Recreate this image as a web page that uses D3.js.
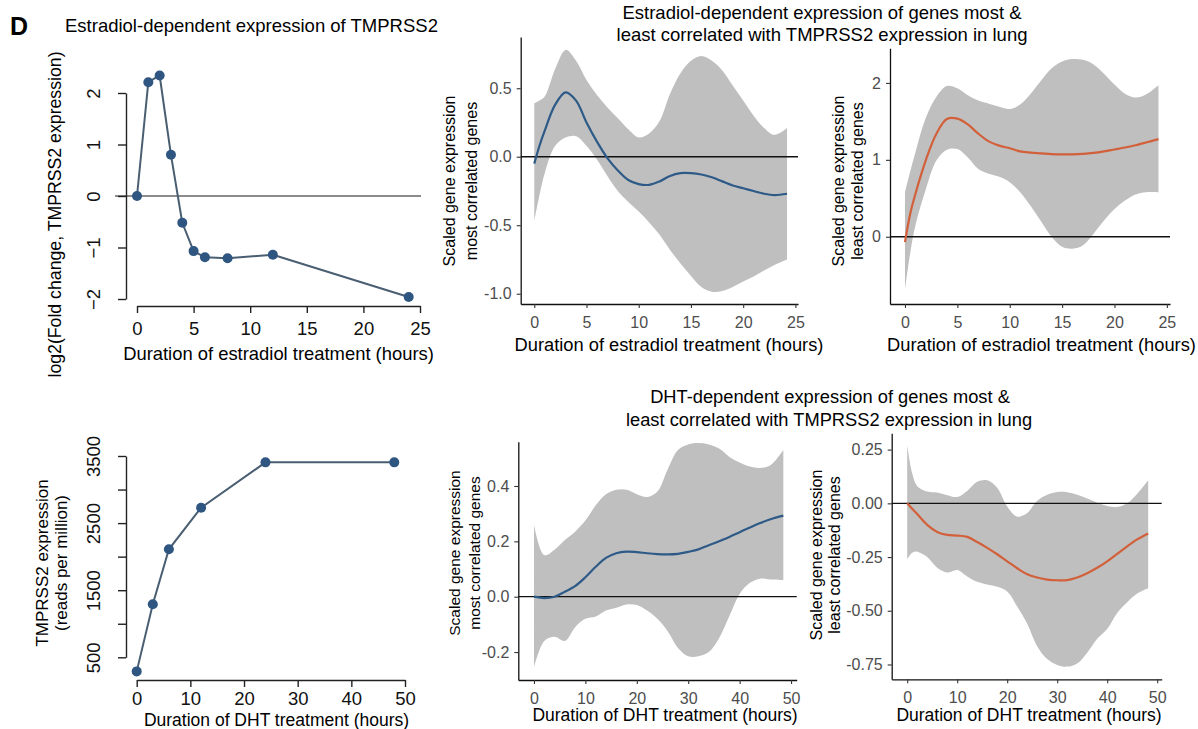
<!DOCTYPE html>
<html>
<head>
<meta charset="utf-8">
<script src="https://cdn.jsdelivr.net/npm/d3@7"></script>
<style>
  body { margin: 0; background: #fff; }
  svg { font-family: "Liberation Sans", Arial, sans-serif; }
</style>
</head>
<body>
<svg id="fig" width="1198" height="729"></svg>
<script>
// ---- data ----
var e2Hours = [0, 1, 2, 3, 4, 5, 6, 8, 12, 24];
var e2LogFC = [0, 2.21, 2.34, 0.8, -0.52, -1.07, -1.19, -1.21, -1.14, -1.96];

var dhtHours = [0, 3, 6, 12, 24, 48];
var dhtRPM = [290, 1290, 2110, 2730, 3405, 3405];

// estradiol, most correlated genes (loess fit + ribbon)
var e2Grid = [0, 0.5, 1, 2, 3, 4, 5, 6, 7, 8, 9, 10, 11, 12, 13, 14, 15, 16, 17, 18, 19, 20, 21, 22, 23, 24.2];
var e2MostFit = [-0.05, 0.08, 0.19, 0.38, 0.47, 0.41, 0.25, 0.11, -0.01, -0.1, -0.17, -0.2, -0.205, -0.18, -0.14, -0.12, -0.12, -0.13, -0.15, -0.18, -0.21, -0.23, -0.25, -0.27, -0.28, -0.27];
var e2MostLo = [-0.47, -0.28, -0.12, 0.08, 0.14, 0.15, 0.08, -0.02, -0.14, -0.25, -0.33, -0.4, -0.48, -0.57, -0.68, -0.78, -0.87, -0.95, -0.985, -0.98, -0.95, -0.91, -0.875, -0.83, -0.79, -0.75];
var e2MostHi = [0.39, 0.41, 0.44, 0.64, 0.78, 0.7, 0.56, 0.45, 0.36, 0.28, 0.2, 0.14, 0.17, 0.26, 0.46, 0.61, 0.7, 0.735, 0.7, 0.63, 0.52, 0.41, 0.3, 0.21, 0.16, 0.21];

// estradiol, least correlated genes
var e2LeastFit = [-0.07, 0.3, 0.56, 1.0, 1.34, 1.53, 1.535, 1.46, 1.34, 1.24, 1.185, 1.15, 1.11, 1.095, 1.085, 1.075, 1.072, 1.072, 1.078, 1.09, 1.11, 1.135, 1.16, 1.19, 1.225, 1.27];
var e2LeastLo = [-0.69, -0.21, 0.15, 0.62, 0.99, 1.13, 1.14, 1.03, 0.88, 0.82, 0.78, 0.71, 0.58, 0.4, 0.2, 0.0, -0.13, -0.155, -0.11, 0.04, 0.21, 0.36, 0.47, 0.55, 0.58, 0.58];
var e2LeastHi = [0.58, 0.85, 1.1, 1.55, 1.82, 1.96, 1.93, 1.84, 1.77, 1.73, 1.69, 1.66, 1.72, 1.86, 2.03, 2.19, 2.28, 2.31, 2.3, 2.24, 2.12, 1.98, 1.86, 1.81, 1.85, 1.97];

// DHT, most correlated genes
var dhtMostGrid = [0, 2, 4, 6, 8, 10, 12, 14, 16, 18, 20, 22, 24, 26, 28, 30, 32, 34, 36, 38, 40, 42, 44, 46, 48.5];
var dhtMostFit = [0.0, -0.005, 0.0, 0.018, 0.038, 0.07, 0.108, 0.14, 0.157, 0.163, 0.161, 0.157, 0.154, 0.153, 0.155, 0.162, 0.171, 0.186, 0.2, 0.216, 0.233, 0.25, 0.266, 0.28, 0.293];
var dhtMostLo = [-0.255, -0.16, -0.145, -0.16, -0.11, -0.08, -0.072, -0.05, -0.04, -0.028, -0.03, -0.05, -0.08, -0.125, -0.185, -0.215, -0.215, -0.2, -0.15, -0.07, 0.01, 0.05, 0.065, 0.062, 0.06];
var dhtMostHi = [0.26, 0.15, 0.17, 0.205, 0.235, 0.275, 0.33, 0.37, 0.386, 0.386, 0.37, 0.36, 0.38, 0.46, 0.53, 0.55, 0.555, 0.55, 0.535, 0.505, 0.485, 0.47, 0.465, 0.475, 0.53];

// DHT, least correlated genes
var dhtLeastGrid = [0, 1, 2, 4, 6, 8, 10, 12, 14, 16, 18, 20, 22, 24, 26, 28, 30, 32, 34, 36, 38, 40, 42, 44, 46, 48.2];
var dhtLeastFit = [0, -0.025, -0.05, -0.1, -0.133, -0.147, -0.15, -0.156, -0.18, -0.207, -0.237, -0.27, -0.302, -0.33, -0.345, -0.355, -0.358, -0.357, -0.345, -0.325, -0.3, -0.27, -0.235, -0.2, -0.168, -0.14];
var dhtLeastLo = [-0.26, -0.23, -0.225, -0.25, -0.3, -0.322, -0.31, -0.34, -0.365, -0.378, -0.388, -0.41, -0.48, -0.56, -0.665, -0.725, -0.752, -0.76, -0.745, -0.695, -0.63, -0.585, -0.51, -0.46, -0.42, -0.395];
var dhtLeastHi = [0.27, 0.14, 0.08, 0.055, 0.05, 0.038, 0.03, 0.058, 0.1, 0.107, 0.072, -0.015, -0.062, -0.045, 0.012, 0.04, 0.053, 0.052, 0.04, 0.022, 0.003, -0.012, -0.017, 0.0, 0.045, 0.108];

var blue = "#2d5a87";
var orange = "#d2603a";

var svg = d3.select("#fig");

function addText(txt, x, y, size, opts) {
  opts = opts || {};
  var t = svg.append("text")
    .attr("x", x)
    .attr("y", y)
    .attr("font-size", size)
    .attr("fill", opts.fill || "#000")
    .attr("text-anchor", opts.anchor || "start")
    .text(txt);
  if (opts.bold) t.attr("font-weight", "bold");
  return t;
}

// rotated text, x is the baseline
function addVText(txt, x, cy, size) {
  svg.append("text")
    .attr("transform", "translate(" + x + "," + cy + ") rotate(-90)")
    .attr("font-size", size)
    .attr("text-anchor", "middle")
    .text(txt);
}

// base R style panel: line + points, detached axes
function basePanel(p) {
  var x = d3.scaleLinear().domain(p.xDom).range(p.xRange);
  var y = d3.scaleLinear().domain(p.yDom).range(p.yRange);
  var g = svg.append("g");

  if (p.zeroLine) {
    g.append("line")
      .attr("x1", p.zeroLine[0]).attr("x2", p.zeroLine[1])
      .attr("y1", y(0)).attr("y2", y(0))
      .attr("stroke", "#666").attr("stroke-width", 1.3);
  }

  var pts = p.xs.map(function (d, i) { return [d, p.ys[i]]; });
  g.append("path")
    .datum(pts)
    .attr("d", d3.line().x(function (d) { return x(d[0]); }).y(function (d) { return y(d[1]); }))
    .attr("fill", "none")
    .attr("stroke", "#4a5e72")
    .attr("stroke-width", 2);

  g.selectAll("circle")
    .data(pts)
    .enter()
    .append("circle")
    .attr("cx", function (d) { return x(d[0]); })
    .attr("cy", function (d) { return y(d[1]); })
    .attr("r", 5)
    .attr("fill", "#2e5680");

  var xa = g.append("g")
    .attr("transform", "translate(0," + p.xAxisY + ")")
    .call(d3.axisBottom(x).tickValues(p.xTicks).tickSize(7).tickSizeOuter(0).tickFormat(d3.format("d")));
  xa.selectAll("text").attr("y", p.xLabOff).attr("dy", 0);

  var ya = g.append("g")
    .attr("transform", "translate(" + p.yAxisX + ",0)")
    .call(d3.axisLeft(y).tickValues(p.yTicks).tickSize(8).tickSizeOuter(0).tickFormat(p.yFmt));
  ya.selectAll("text")
    .attr("x", 0).attr("dy", 0)
    .attr("text-anchor", "middle")
    .attr("transform", "translate(-26,0) rotate(-90)");

  [xa, ya].forEach(function (a) {
    a.attr("font-family", null).attr("font-size", 18.5);
    a.select(".domain").attr("stroke", "#222").attr("stroke-width", 1.4);
    a.selectAll(".tick line").attr("stroke", "#222").attr("stroke-width", 1.4);
    a.selectAll("text").attr("fill", "#111");
  });
}

// ggplot style panel: smoothed fit with ribbon
function ggPanel(p) {
  var x = d3.scaleLinear().domain(p.xDom).range(p.xRange);
  var y = d3.scaleLinear().domain(p.yDom).range(p.yRange);
  var g = svg.append("g");
  var rows = p.grid.map(function (t, i) {
    return { t: t, lo: p.lo[i], hi: p.hi[i], fit: p.fit[i] };
  });

  g.append("path")
    .datum(rows)
    .attr("d", d3.area()
      .x(function (d) { return x(d.t); })
      .y0(function (d) { return y(d.lo); })
      .y1(function (d) { return y(d.hi); })
      .curve(d3.curveCatmullRom))
    .attr("fill", "#bfbfbf");

  g.append("line")
    .attr("x1", p.xRange[0]).attr("x2", p.xRange[1])
    .attr("y1", y(0)).attr("y2", y(0))
    .attr("stroke", "#111").attr("stroke-width", 1.3);

  g.append("path")
    .datum(rows)
    .attr("d", d3.line()
      .x(function (d) { return x(d.t); })
      .y(function (d) { return y(d.fit); })
      .curve(d3.curveCatmullRom))
    .attr("fill", "none")
    .attr("stroke", p.color)
    .attr("stroke-width", 2.2);

  var xa = g.append("g")
    .attr("transform", "translate(0," + p.yRange[0] + ")")
    .call(d3.axisBottom(x).tickValues(p.xTicks).tickSize(4).tickSizeOuter(0).tickFormat(function (d) { return String(d); }));
  xa.selectAll("text").attr("y", 23.5).attr("dy", 0);

  var ya = g.append("g")
    .attr("transform", "translate(" + p.xRange[0] + ",0)")
    .call(d3.axisLeft(y).tickValues(p.yTicks).tickSize(4).tickSizeOuter(0).tickPadding(5).tickFormat(p.yFmt));

  [xa, ya].forEach(function (a) {
    a.attr("font-family", null).attr("font-size", 16);
    a.select(".domain").attr("stroke", "#111").attr("stroke-width", 1.3);
    a.selectAll(".tick line").attr("stroke", "#333").attr("stroke-width", 1.1);
    a.selectAll("text").attr("fill", "#4d4d4d");
  });
}

// ---- top left: estradiol TMPRSS2 ----
addText("D", 10, 35, 25, { bold: true });
addText("Estradiol-dependent expression of TMPRSS2", 65, 31.5, 18.5);
basePanel({
  xs: e2Hours, ys: e2LogFC,
  xDom: [0, 25], xRange: [137, 420],
  yDom: [-2, 2], yRange: [299, 93],
  xAxisY: 306, yAxisX: 126, xLabOff: 29,
  xTicks: [0, 5, 10, 15, 20, 25],
  yTicks: [-2, -1, 0, 1, 2],
  yFmt: d3.format("d"),
  zeroLine: [115, 421]
});
addText("Duration of estradiol treatment (hours)", 278.5, 360, 18.4, { anchor: "middle" });
addVText("log2(Fold change, TMPRSS2 expression)", 61, 214.5, 17.7);

// ---- bottom left: DHT TMPRSS2 ----
basePanel({
  xs: dhtHours, ys: dhtRPM,
  xDom: [0, 50], xRange: [136.7, 405],
  yDom: [500, 3500], yRange: [657.3, 456],
  xAxisY: 680, yAxisX: 126, xLabOff: 25,
  xTicks: [0, 10, 20, 30, 40, 50],
  yTicks: [500, 1000, 1500, 2000, 2500, 3000, 3500],
  yFmt: function (d) { return d % 1000 === 500 ? String(d) : ""; }
});
addText("Duration of DHT treatment (hours)", 276.5, 725.5, 17.5, { anchor: "middle" });
addVText("TMPRSS2 expression", 48, 563, 17);
addVText("(reads per million)", 67, 563, 17);

// ---- estradiol smooth panels ----
addText("Estradiol-dependent expression of genes most &", 822, 19, 18.5, { anchor: "middle" });
addText("least correlated with TMPRSS2 expression in lung", 822, 41, 18.5, { anchor: "middle" });

ggPanel({
  grid: e2Grid, fit: e2MostFit, lo: e2MostLo, hi: e2MostHi, color: blue,
  xDom: [-1.3, 25.25], xRange: [520.7, 798],
  yDom: [-1.075, 0.874], yRange: [304, 37],
  xTicks: [0, 5, 10, 15, 20, 25],
  yTicks: [-1, -0.5, 0, 0.5],
  yFmt: function (d) { return d.toFixed(1); }
});
addText("Duration of estradiol treatment (hours)", 669, 351, 18.3, { anchor: "middle" });
addVText("Scaled gene expression", 455, 181, 16);
addVText("most correlated genes", 477, 181, 16);

ggPanel({
  grid: e2Grid, fit: e2LeastFit, lo: e2LeastLo, hi: e2LeastHi, color: orange,
  xDom: [-1.43, 25.3], xRange: [890, 1170],
  yDom: [-0.874, 2.45], yRange: [304, 48.3],
  xTicks: [0, 5, 10, 15, 20, 25],
  yTicks: [0, 1, 2],
  yFmt: function (d) { return String(d); }
});
addText("Duration of estradiol treatment (hours)", 1041.5, 351, 18.3, { anchor: "middle" });
addVText("Scaled gene expression", 844, 181, 16);
addVText("least correlated genes", 863, 181, 16);

// ---- DHT smooth panels ----
addText("DHT-dependent expression of genes most &", 830, 403, 18.3, { anchor: "middle" });
addText("least correlated with TMPRSS2 expression in lung", 829, 426, 18.3, { anchor: "middle" });

ggPanel({
  grid: dhtMostGrid, fit: dhtMostFit, lo: dhtMostLo, hi: dhtMostHi, color: blue,
  xDom: [-3.05, 51.1], xRange: [518.3, 796.7],
  yDom: [-0.301, 0.56], yRange: [680, 441.7],
  xTicks: [0, 10, 20, 30, 40, 50],
  yTicks: [-0.2, 0, 0.2, 0.4],
  yFmt: function (d) { return d.toFixed(1); }
});
addText("Duration of DHT treatment (hours)", 665, 721, 17.5, { anchor: "middle" });
addVText("Scaled gene expression", 460, 553, 15.5);
addVText("most correlated genes", 480, 553, 15.5);

ggPanel({
  grid: dhtLeastGrid, fit: dhtLeastFit, lo: dhtLeastLo, hi: dhtLeastHi, color: orange,
  xDom: [-3.1, 50.9], xRange: [891.7, 1161.7],
  yDom: [-0.819, 0.326], yRange: [679.3, 433.3],
  xTicks: [0, 10, 20, 30, 40, 50],
  yTicks: [-0.75, -0.5, -0.25, 0, 0.25],
  yFmt: function (d) { return d.toFixed(2); }
});
addText("Duration of DHT treatment (hours)", 1029, 721, 17.5, { anchor: "middle" });
addVText("Scaled gene expression", 822, 555, 16);
addVText("least correlated genes", 840, 555, 16);
</script>
</body>
</html>
